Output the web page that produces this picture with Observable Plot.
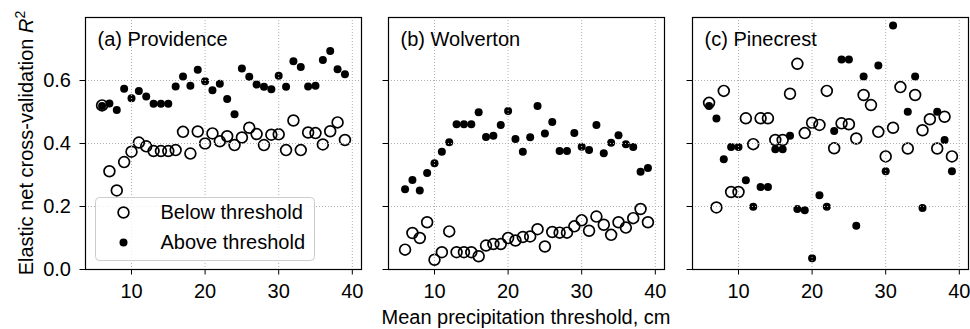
<!DOCTYPE html>
<html>
<head>
<meta charset="utf-8">
<script src="https://cdn.jsdelivr.net/npm/d3@7"></script>
<script src="https://cdn.jsdelivr.net/npm/@observablehq/plot@0.6"></script>
<style>
  html, body { margin: 0; padding: 0; background: white; }
  #chart { position: relative; width: 970px; height: 329px; font-family: "Liberation Sans", Arial, Helvetica, sans-serif; color: black; }
  .panel { position: absolute; top: 0; }
  .ylabel { position: absolute; left: 26px; top: 143px; transform: translate(-50%, -50%) rotate(-90deg); white-space: nowrap; font-size: 20px; line-height: 20px; }
  .ylabel sup { font-size: 14px; line-height: 0; vertical-align: 8px; }
  .xlabel { position: absolute; left: 526px; top: 307px; transform: translateX(-50%); white-space: nowrap; font-size: 20px; line-height: 20px; }
</style>
</head>
<body>
<div id="chart"></div>
<script>
// ---- data ----
const thresholds = [6,7,8,9,10,11,12,13,14,15,16,17,18,19,20,21,22,23,24,25,26,27,28,29,30,31,32,33,34,35,36,37,38,39];

const providenceBelow = [0.521,0.312,0.251,0.341,0.374,0.403,0.391,0.376,0.376,0.376,0.379,0.437,0.368,0.438,0.400,0.432,0.407,0.423,0.395,0.419,0.450,0.430,0.395,0.428,0.429,0.379,0.473,0.379,0.435,0.433,0.397,0.439,0.467,0.411];
const providenceAbove = [0.519,0.527,0.506,0.574,0.544,0.567,0.549,0.526,0.526,0.526,0.581,0.613,0.583,0.634,0.598,0.569,0.590,0.541,0.493,0.638,0.612,0.587,0.580,0.572,0.615,0.580,0.661,0.643,0.581,0.583,0.665,0.694,0.636,0.620];

const wolvertonBelow = [0.063,0.116,0.100,0.150,0.031,0.055,0.121,0.055,0.055,0.055,0.042,0.076,0.081,0.081,0.100,0.092,0.103,0.105,0.128,0.073,0.119,0.117,0.117,0.137,0.156,0.123,0.168,0.142,0.110,0.150,0.133,0.163,0.192,0.150];
const wolvertonAbove = [0.255,0.284,0.251,0.306,0.337,0.374,0.404,0.461,0.461,0.461,0.499,0.421,0.425,0.459,0.503,0.414,0.374,0.420,0.519,0.432,0.468,0.376,0.376,0.433,0.390,0.379,0.459,0.369,0.402,0.426,0.398,0.389,0.310,0.322];

const pinecrestBelow = [0.529,0.197,0.567,0.246,0.246,0.480,0.398,0.480,0.480,0.411,0.411,0.558,0.653,0.433,0.466,0.459,0.567,0.385,0.464,0.461,0.416,0.554,0.522,0.437,0.359,0.450,0.579,0.384,0.554,0.442,0.477,0.384,0.485,0.359];
const pinecrestAbove = [0.519,0.479,0.350,0.389,0.389,0.283,0.199,0.262,0.262,0.382,0.382,0.425,0.192,0.188,0.036,0.236,0.199,0.440,0.667,0.667,0.139,0.613,null,0.648,0.312,0.775,null,0.501,0.613,0.195,null,0.501,0.411,0.312];

const panelTitles = ["(a) Providence", "(b) Wolverton", "(c) Pinecrest"];
const legendLabels = ["Below threshold", "Above threshold"];
const xTicks = [10, 20, 30, 40];
const yTicks = [0.0, 0.2, 0.4, 0.6];
const xLabel = "Mean precipitation threshold, cm";

// ---- drawing ----
const fontFamily = '"Liberation Sans", Arial, Helvetica, sans-serif';
const gridStyle = {stroke: "#b0b0b0", strokeWidth: 1, strokeDasharray: "1,2"};

function rows(below, above) {
  return thresholds.map((t, i) => ({t, below: below[i], above: above[i]}));
}

function panel({below, above, title, left, marginLeft, marginRight, showY, legend}) {
  const data = rows(below, above);
  const width = marginLeft + 276 + marginRight;
  const marks = [
    Plot.dot(data.filter(d => d.below != null), {x: "t", y: "below", r: 5.4, fill: "none", stroke: "black", strokeWidth: 1.7}),
    Plot.dot(data.filter(d => d.above != null), {x: "t", y: "above", r: 4, fill: "black", stroke: "none"}),
    Plot.ruleX(xTicks, gridStyle),
    Plot.ruleY(yTicks.filter(v => v > 0), gridStyle),
    Plot.text([title], {text: d => d, frameAnchor: "top-left", dx: 12, dy: 22, textAnchor: "start", lineAnchor: "middle", fontSize: 20, fill: "black"})
  ];
  if (legend) {
    marks.push(
      Plot.frame({fill: "white", fillOpacity: 0.8, stroke: "#cccccc", strokeWidth: 1, rx: 4,
                  insetLeft: 10, insetRight: 47, insetTop: 180, insetBottom: 9}),
      Plot.dot([legendLabels[0]], {frameAnchor: "bottom-left", dx: 38, dy: -57, r: 5.4, fill: "none", stroke: "black", strokeWidth: 1.7}),
      Plot.dot([legendLabels[1]], {frameAnchor: "bottom-left", dx: 38, dy: -27, r: 4, fill: "black", stroke: "none"}),
      Plot.text([legendLabels[0]], {text: d => d, frameAnchor: "bottom-left", dx: 75, dy: -57,
                               textAnchor: "start", lineAnchor: "middle", fontSize: 20, fill: "black"}),
      Plot.text([legendLabels[1]], {text: d => d, frameAnchor: "bottom-left", dx: 75, dy: -27,
                               textAnchor: "start", lineAnchor: "middle", fontSize: 20, fill: "black"})
    );
  }
  marks.push(Plot.frame({stroke: "black", strokeWidth: 1.2}));
  const svg = Plot.plot({
    width, height: 329,
    marginLeft, marginRight, marginTop: 17, marginBottom: 60,
    style: {fontSize: "20px", fontFamily, color: "black", background: "transparent", overflow: "visible"},
    x: {domain: [3.75, 41.25], ticks: xTicks, tickSize: 5.5, tickPadding: 9, tickFormat: d => String(d), label: null},
    y: {domain: [0, 0.8], ticks: yTicks, tickSize: 5.5, tickPadding: 9, tickFormat: showY ? d3.format(".1f") : () => "", label: null},
    marks
  });
  const div = document.createElement("div");
  div.className = "panel";
  div.style.left = left + "px";
  div.appendChild(svg);
  return div;
}

const chart = document.getElementById("chart");
chart.appendChild(panel({below: providenceBelow, above: providenceAbove, title: panelTitles[0], left: 0, marginLeft: 85, marginRight: 2, showY: true, legend: true}));
chart.appendChild(panel({below: wolvertonBelow, above: wolvertonAbove, title: panelTitles[1], left: 386, marginLeft: 2, marginRight: 2, showY: false, legend: false}));
chart.appendChild(panel({below: pinecrestBelow, above: pinecrestAbove, title: panelTitles[2], left: 690, marginLeft: 2, marginRight: 2, showY: false, legend: false}));

const yl = document.createElement("div");
yl.className = "ylabel";
yl.innerHTML = "Elastic net cross-validation <i>R</i><sup>2</sup>";
chart.appendChild(yl);

const xl = document.createElement("div");
xl.className = "xlabel";
xl.textContent = xLabel;
chart.appendChild(xl);
</script>
</body>
</html>
